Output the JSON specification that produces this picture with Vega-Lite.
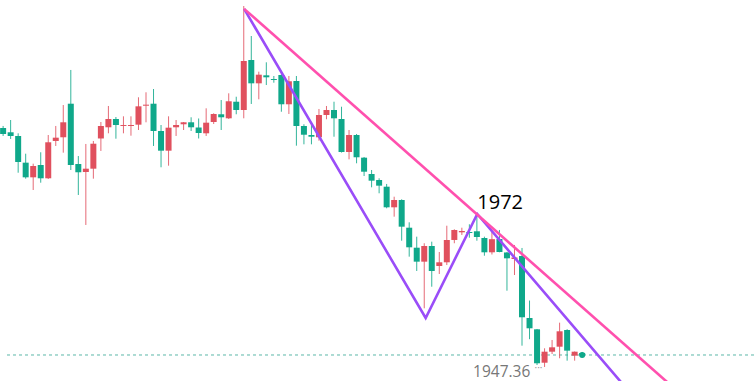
{
  "$schema": "https://vega.github.io/schema/vega-lite/v6.json",
  "width": 755,
  "height": 381,
  "autosize": {"type": "fit", "contains": "padding"},
  "padding": 0,
  "background": "white",
  "config": {"view": {"stroke": null}},
  "datasets": {
    "candles": [
      {"i":0,"o":1987.32,"c":1986.27,"h":1987.68,"l":1985.92},
      {"i":1,"o":1986.57,"c":1985.92,"h":1988.73,"l":1985.39},
      {"i":2,"o":1985.92,"c":1981.34,"h":1986.39,"l":1979.45},
      {"i":3,"o":1981.22,"c":1978.64,"h":1982.80,"l":1978.40},
      {"i":4,"o":1978.64,"c":1980.63,"h":1981.04,"l":1976.41},
      {"i":5,"o":1980.81,"c":1978.47,"h":1983.05,"l":1977.69},
      {"i":6,"o":1978.47,"c":1984.81,"h":1986.09,"l":1978.35},
      {"i":7,"o":1985.04,"c":1985.62,"h":1987.68,"l":1984.16},
      {"i":8,"o":1985.69,"c":1988.33,"h":1991.37,"l":1982.98},
      {"i":9,"o":1991.60,"c":1980.81,"h":1997.54,"l":1979.93},
      {"i":10,"o":1980.99,"c":1979.53,"h":1982.39,"l":1975.53},
      {"i":11,"o":1979.58,"c":1980.16,"h":1984.51,"l":1970.25},
      {"i":12,"o":1980.16,"c":1984.56,"h":1985.04,"l":1978.40},
      {"i":13,"o":1985.48,"c":1987.68,"h":1988.38,"l":1983.28},
      {"i":14,"o":1987.45,"c":1988.91,"h":1991.20,"l":1986.39},
      {"i":15,"o":1988.91,"c":1987.85,"h":1989.26,"l":1985.44},
      {"i":16,"o":1987.68,"c":1987.85,"h":1989.38,"l":1986.39},
      {"i":17,"o":1987.68,"c":1987.85,"h":1989.38,"l":1985.97},
      {"i":18,"o":1987.91,"c":1991.14,"h":1992.73,"l":1986.97},
      {"i":19,"o":1991.25,"c":1991.43,"h":1993.61,"l":1988.33},
      {"i":20,"o":1991.60,"c":1986.80,"h":1994.19,"l":1984.16},
      {"i":21,"o":1986.80,"c":1983.33,"h":1987.85,"l":1980.41},
      {"i":22,"o":1983.33,"c":1987.38,"h":1989.38,"l":1980.69},
      {"i":23,"o":1987.45,"c":1987.85,"h":1988.73,"l":1985.92},
      {"i":24,"o":1987.98,"c":1988.33,"h":1988.38,"l":1986.97},
      {"i":25,"o":1988.33,"c":1987.45,"h":1989.21,"l":1986.80},
      {"i":26,"o":1987.41,"c":1986.44,"h":1989.00,"l":1985.48},
      {"i":27,"o":1986.39,"c":1988.26,"h":1990.79,"l":1985.92},
      {"i":28,"o":1988.38,"c":1989.79,"h":1989.91,"l":1988.03},
      {"i":29,"o":1989.74,"c":1989.21,"h":1992.25,"l":1986.97},
      {"i":30,"o":1989.03,"c":1992.03,"h":1993.43,"l":1988.91},
      {"i":31,"o":1991.95,"c":1990.49,"h":1992.83,"l":1989.74},
      {"i":32,"o":1990.49,"c":1999.12,"h":2008.80,"l":1989.03},
      {"i":33,"o":1999.30,"c":1995.19,"h":2003.52,"l":1991.55},
      {"i":34,"o":1995.19,"c":1996.71,"h":1997.24,"l":1992.38},
      {"i":35,"o":1996.60,"c":1996.25,"h":1998.89,"l":1994.89},
      {"i":36,"o":1995.95,"c":1995.78,"h":1996.48,"l":1995.30},
      {"i":37,"o":1996.66,"c":1991.50,"h":1996.80,"l":1990.19},
      {"i":38,"o":1991.50,"c":1995.55,"h":1996.48,"l":1989.79},
      {"i":39,"o":1995.60,"c":1987.68,"h":1996.48,"l":1984.21},
      {"i":40,"o":1987.68,"c":1986.14,"h":1987.98,"l":1984.45},
      {"i":41,"o":1986.09,"c":1985.79,"h":1987.85,"l":1984.45},
      {"i":42,"o":1985.69,"c":1989.61,"h":1990.67,"l":1985.09},
      {"i":43,"o":1989.61,"c":1990.49,"h":1991.20,"l":1988.86},
      {"i":44,"o":1990.49,"c":1989.03,"h":1991.95,"l":1985.79},
      {"i":45,"o":1988.91,"c":1983.10,"h":1991.07,"l":1983.00},
      {"i":46,"o":1983.10,"c":1986.09,"h":1986.97,"l":1981.81},
      {"i":47,"o":1986.09,"c":1982.17,"h":1986.27,"l":1981.11},
      {"i":48,"o":1982.10,"c":1979.63,"h":1982.22,"l":1978.87},
      {"i":49,"o":1979.23,"c":1978.05,"h":1979.93,"l":1976.88},
      {"i":50,"o":1978.17,"c":1977.17,"h":1978.47,"l":1975.83},
      {"i":51,"o":1976.99,"c":1973.36,"h":1977.47,"l":1973.19},
      {"i":52,"o":1973.36,"c":1974.65,"h":1975.23,"l":1971.71},
      {"i":53,"o":1974.65,"c":1969.95,"h":1974.77,"l":1967.48},
      {"i":54,"o":1969.77,"c":1966.32,"h":1970.72,"l":1964.67},
      {"i":55,"o":1966.25,"c":1963.79,"h":1968.19,"l":1962.15},
      {"i":56,"o":1963.79,"c":1966.55,"h":1967.03,"l":1955.58},
      {"i":57,"o":1966.55,"c":1962.15,"h":1967.31,"l":1959.38},
      {"i":58,"o":1963.03,"c":1963.68,"h":1965.49,"l":1961.62},
      {"i":59,"o":1963.68,"c":1967.61,"h":1970.12,"l":1963.20},
      {"i":60,"o":1967.61,"c":1969.37,"h":1969.49,"l":1967.03},
      {"i":61,"o":1968.96,"c":1969.19,"h":1969.77,"l":1968.49},
      {"i":62,"o":1969.01,"c":1968.84,"h":1970.37,"l":1968.01},
      {"i":63,"o":1969.14,"c":1968.13,"h":1972.01,"l":1967.48},
      {"i":64,"o":1967.96,"c":1965.44,"h":1968.19,"l":1964.84},
      {"i":65,"o":1965.44,"c":1967.75,"h":1969.07,"l":1965.05},
      {"i":66,"o":1967.78,"c":1965.49,"h":1969.37,"l":1965.44},
      {"i":67,"o":1965.41,"c":1964.38,"h":1965.50,"l":1958.68},
      {"i":68,"o":1964.26,"c":1964.53,"h":1966.73,"l":1961.44},
      {"i":69,"o":1964.79,"c":1954.00,"h":1966.20,"l":1949.00},
      {"i":70,"o":1953.87,"c":1952.06,"h":1956.95,"l":1950.14},
      {"i":71,"o":1951.88,"c":1945.90,"h":1951.94,"l":1945.60},
      {"i":72,"o":1946.00,"c":1947.94,"h":1948.54,"l":1945.25},
      {"i":73,"o":1947.94,"c":1948.71,"h":1950.00,"l":1947.53},
      {"i":74,"o":1948.82,"c":1951.53,"h":1953.05,"l":1946.78},
      {"i":75,"o":1951.76,"c":1948.12,"h":1951.90,"l":1946.36},
      {"i":76,"o":1947.24,"c":1947.94,"h":1947.98,"l":1946.36},
      {"i":77,"o":1947.71,"c":1947.36,"h":1947.89,"l":1946.92}
    ],
    "lines": [
      {"line":"zigzag","k":0,"i":32.05,"p":2008.3},
      {"line":"zigzag","k":1,"i":56.19,"p":1953.87},
      {"line":"zigzag","k":2,"i":63.05,"p":1972.18},
      {"line":"zigzag","k":3,"i":85,"p":1938.2},
      {"line":"trend","k":0,"i":32.05,"p":2008.3},
      {"line":"trend","k":1,"i":95,"p":1934.77}
    ]
  },
  "layer": [
    {
      "data": {"values": [{"p": 1947.36}]},
      "mark": {"type": "rule", "color": "#5cb8a8", "strokeDash": [3, 3], "strokeWidth": 1},
      "encoding": {
        "y": {"field": "p", "type": "quantitative", "scale": {"domain": [1942.78, 2009.86], "nice": false, "zero": false, "padding": 0}, "axis": null}
      }
    },
    {
      "data": {"name": "candles"},
      "mark": {"type": "rule", "strokeWidth": 1, "opacity": 0.85},
      "encoding": {
        "x": {"field": "i", "type": "quantitative", "scale": {"domain": [0.25, 99.85], "nice": false, "zero": false, "padding": 0}, "axis": null},
        "y": {"field": "l", "type": "quantitative", "axis": null},
        "y2": {"field": "h"},
        "color": {"condition": {"test": "datum.c >= datum.o", "value": "#E0505E"}, "value": "#0FA88A"}
      }
    },
    {
      "data": {"name": "candles"},
      "mark": {"type": "bar", "size": 6},
      "encoding": {
        "x": {"field": "i", "type": "quantitative", "axis": null},
        "y": {"field": "o", "type": "quantitative", "axis": null},
        "y2": {"field": "c"},
        "color": {"condition": {"test": "datum.c >= datum.o", "value": "#E0505E"}, "value": "#0FA88A"}
      }
    },
    {
      "data": {"values": [{"i": 77, "p": 1947.36}]},
      "mark": {"type": "circle", "size": 36, "color": "#0FA88A", "opacity": 1},
      "encoding": {
        "x": {"field": "i", "type": "quantitative", "axis": null},
        "y": {"field": "p", "type": "quantitative", "axis": null}
      }
    },
    {
      "data": {"name": "lines"},
      "mark": {"type": "line", "strokeWidth": 2.6, "clip": true},
      "encoding": {
        "x": {"field": "i", "type": "quantitative", "axis": null},
        "y": {"field": "p", "type": "quantitative", "axis": null},
        "order": {"field": "k"},
        "color": {"field": "line", "type": "nominal", "scale": {"domain": ["zigzag", "trend"], "range": ["#9A4DF8", "#FF50AE"]}, "legend": null}
      }
    },
    {
      "data": {"values": [{"i": 63.05, "p": 1974.12, "t": "1972"}]},
      "mark": {"type": "text", "align": "left", "baseline": "middle", "fontSize": 20, "font": "Open Sans", "color": "#000000"},
      "encoding": {
        "x": {"field": "i", "type": "quantitative", "axis": null},
        "y": {"field": "p", "type": "quantitative", "axis": null},
        "text": {"field": "t"}
      }
    },
    {
      "data": {"values": [{"i": 66.3, "p": 1944.37, "t": "1947.36"}]},
      "mark": {"type": "text", "align": "center", "baseline": "middle", "fontSize": 15.5, "font": "Open Sans", "color": "#777777"},
      "encoding": {
        "x": {"field": "i", "type": "quantitative", "axis": null},
        "y": {"field": "p", "type": "quantitative", "axis": null},
        "text": {"field": "t"}
      }
    },
    {
      "data": {"values": [{"i": 71.2, "p": 1945.0, "t": "···"}]},
      "mark": {"type": "text", "align": "center", "baseline": "middle", "fontSize": 10, "font": "Open Sans", "color": "#999999"},
      "encoding": {
        "x": {"field": "i", "type": "quantitative", "axis": null},
        "y": {"field": "p", "type": "quantitative", "axis": null},
        "text": {"field": "t"}
      }
    }
  ]
}
